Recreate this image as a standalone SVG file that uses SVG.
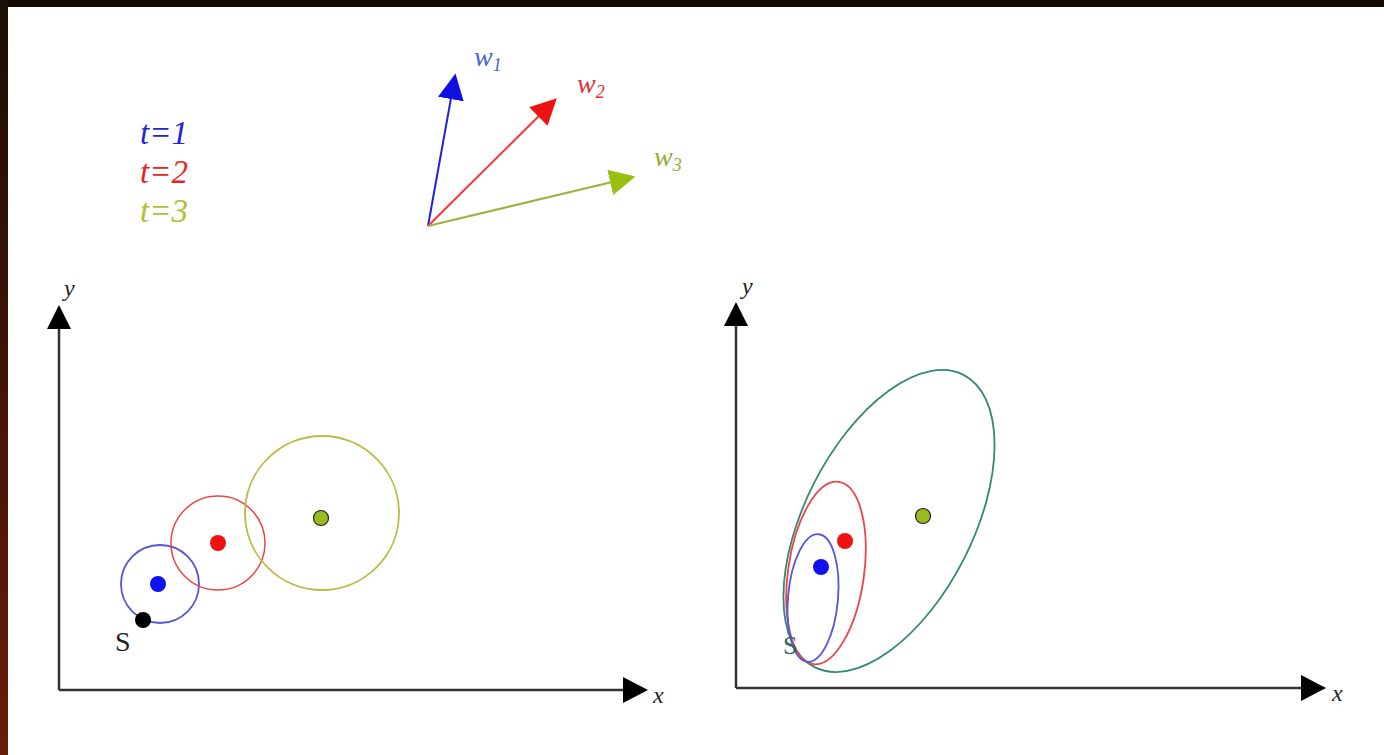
<svg xmlns="http://www.w3.org/2000/svg" width="1384" height="755" viewBox="0 0 1384 755">
<defs>
<linearGradient id="side" x1="0" y1="0" x2="0" y2="1">
<stop offset="0" stop-color="#1a0e05"/>
<stop offset="0.4" stop-color="#3a1206"/>
<stop offset="1" stop-color="#6a1c08"/>
</linearGradient>
<marker id="mb" viewBox="0 0 10 10" refX="9" refY="5" markerWidth="26" markerHeight="26" markerUnits="userSpaceOnUse" orient="auto"><path d="M0,0 L10,5 L0,10 Z" fill="#1010e0"/></marker>
<marker id="mr" viewBox="0 0 10 10" refX="9" refY="5" markerWidth="26" markerHeight="26" markerUnits="userSpaceOnUse" orient="auto"><path d="M0,0 L10,5 L0,10 Z" fill="#ee1111"/></marker>
<marker id="mg" viewBox="0 0 10 10" refX="9" refY="5" markerWidth="26" markerHeight="26" markerUnits="userSpaceOnUse" orient="auto"><path d="M0,0 L10,5 L0,10 Z" fill="#99c011"/></marker>
</defs>
<style>
.lbl{font-family:"Liberation Serif",serif;font-style:italic;font-size:24px}
.leg{font-family:"Liberation Serif",serif;font-style:italic;font-size:33px}
.wl{font-family:"Liberation Serif",serif;font-style:italic;font-size:28px}
.axis{stroke:#333;stroke-width:2.5;fill:none}
.dot{stroke:#222;stroke-width:1.2}
</style>
<rect x="0" y="0" width="1384" height="755" fill="#fff"/>
<rect x="0" y="0" width="1384" height="7" fill="#140a04"/>
<rect x="0" y="0" width="8" height="755" fill="url(#side)"/>

<g id="legend">
<text class="leg" x="140" y="144" fill="#2222dd">t=1</text>
<text class="leg" x="140" y="183" fill="#ee2222">t=2</text>
<text class="leg" x="140" y="222" fill="#b0c030">t=3</text>
</g>

<g id="vectors">
<line x1="428" y1="226" x2="455" y2="76" stroke="#2222dd" stroke-width="2" marker-end="url(#mb)"/>
<line x1="428" y1="226" x2="555" y2="100" stroke="#ff3333" stroke-width="2" marker-end="url(#mr)"/>
<line x1="428" y1="226" x2="633" y2="177" stroke="#a0b040" stroke-width="2" marker-end="url(#mg)"/>
<text class="wl" x="474" y="66" fill="#4466cc">w<tspan font-size="18" dy="5">1</tspan></text>
<text class="wl" x="577" y="93" fill="#dd3333">w<tspan font-size="18" dy="5">2</tspan></text>
<text class="wl" x="654" y="166" fill="#99aa33">w<tspan font-size="18" dy="5">3</tspan></text>
</g>

<g id="left-axes">
<path class="axis" d="M59,690 L59,308 M59,690 L624,690"/>
<path d="M59,305 L47,329 L71,329 Z" fill="#000"/>
<path d="M648,690 L623,677 L623,703 Z" fill="#000"/>
<text class="lbl" x="64" y="296" fill="#222">y</text>
<text class="lbl" x="653" y="703" fill="#222">x</text>
</g>

<g id="left-circles">
<circle cx="160" cy="584" r="39" fill="none" stroke="#5555dd" stroke-width="1.8"/>
<circle cx="218" cy="543" r="47" fill="none" stroke="#ee4444" stroke-width="1.5"/>
<circle cx="322" cy="513" r="77" fill="none" stroke="#bbbb44" stroke-width="1.8"/>
<circle cx="158" cy="584" r="8" fill="#1111ee"/>
<circle cx="218" cy="543" r="8" fill="#ee1111"/>
<circle class="dot" cx="321" cy="518" r="7.5" fill="#99bb22"/>
<circle cx="143" cy="620" r="8" fill="#000"/>
<text x="115" y="651" font-family="Liberation Serif, serif" font-size="28" fill="#222">S</text>
</g>

<g id="right-axes">
<path class="axis" d="M736,688 L736,306 M736,688 L1302,688"/>
<path d="M736,302 L724,326 L748,326 Z" fill="#000"/>
<path d="M1326,688 L1301,675 L1301,701 Z" fill="#000"/>
<text class="lbl" x="742" y="294" fill="#222">y</text>
<text class="lbl" x="1332" y="701" fill="#222">x</text>
</g>

<g id="right-ellipses">
<ellipse cx="889" cy="521" rx="84" ry="164" transform="rotate(27 889 521)" fill="none" stroke="#338877" stroke-width="1.8"/>
<ellipse cx="826" cy="573" rx="38" ry="92" transform="rotate(8 826 573)" fill="none" stroke="#ee4444" stroke-width="1.8"/>
<ellipse cx="813" cy="598" rx="25" ry="64" transform="rotate(5 813 598)" fill="none" stroke="#5555dd" stroke-width="1.8"/>
<circle cx="821" cy="567" r="8" fill="#1111ee"/>
<circle cx="845" cy="541" r="8" fill="#ee1111"/>
<circle class="dot" cx="923" cy="516" r="7.5" fill="#99bb22"/>
<text x="783" y="654" font-family="Liberation Serif, serif" font-size="26" fill="#336655">S</text>
</g>
</svg>
